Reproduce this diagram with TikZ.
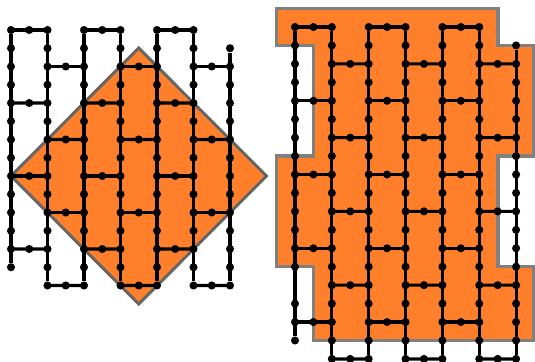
\documentclass[tikz,border=0pt]{standalone}
\usepackage{xcolor}
\definecolor{cellorange}{RGB}{255,127,42}
\definecolor{cellgray}{RGB}{128,128,128}
\definecolor{diamondgray}{RGB}{102,102,102}
\usetikzlibrary{calc}
\tikzset{
  dot/.style={circle, fill=black, inner sep=0pt, minimum size=4.6pt},
  bond/.style={black, line width=1.8pt},
}
\begin{document}
\begin{tikzpicture}[x=0.02cm, y=-0.02cm]
  \useasboundingbox (0,0) rectangle (535,362);

  % Diamond behind the left lattice
  \fill[cellorange, draw=diamondgray, line width=1.7pt, line join=miter]
    (138.7,48) -- (266.5,176) -- (138.7,304) -- (11,176) -- cycle;

  % Region behind the right lattice
  \fill[cellorange, draw=cellgray, line width=2pt, line join=miter]
    (276.6,8.6) -- (497.8,8.6) -- (497.8,45.4) -- (534,45.4) -- (534,155.8)
    -- (497.8,155.8) -- (497.8,266.7) -- (534,266.7) -- (534,340.4)
    -- (313.4,340.4) -- (313.4,266.7) -- (276.6,266.7) -- (276.6,155.8)
    -- (313.4,155.8) -- (313.4,45.4) -- (276.6,45.4) -- cycle;

  % Left lattice: columns 0-6, rows 0-14
  \def\colstep{36.5}
  \def\rowstep{18.25}
  \begin{scope}[shift={(11,30)}]
    \foreach \c/\first/\last in {0/0/13, 1/0/14, 2/0/14, 3/0/14, 4/0/14, 5/0/14, 6/1/14} {
      \foreach \r in {\first,...,\last}
        \node[dot] (L\c-\r) at ({\c*\colstep},{\r*\rowstep}) {};
      \draw[bond] (L\c-\first) -- (L\c-\last);
    }
    % Rungs, each with a dot halfway
    \foreach \c/\d/\r in {0/1/0, 0/1/4, 0/1/8, 0/1/12, 1/2/2, 1/2/6, 1/2/10, 1/2/14,
                          2/3/0, 2/3/4, 2/3/8, 2/3/12, 3/4/2, 3/4/6, 3/4/10, 3/4/14,
                          4/5/0, 4/5/4, 4/5/8, 4/5/12, 5/6/2, 5/6/6, 5/6/10, 5/6/14} {
      \node[dot] (Lm\c-\r) at ($(L\c-\r)!0.5!(L\d-\r)$) {};
      \draw[bond] (L\c-\r.center) -- (Lm\c-\r.center) -- (L\d-\r.center);
    }
  \end{scope}

  % Right lattice: columns 0-6, rows 0-18, one dot left out in column 0
  \def\colstep{36.85}
  \def\rowstep{18.44}
  \begin{scope}[shift={(295,27)}]
    \foreach \c/\first/\last in {0/0/17, 1/0/18, 2/0/18, 3/0/18, 4/0/18, 5/0/18, 6/1/18} {
      \foreach \r in {\first,...,\last} {
        \ifnum\numexpr100*\c+\r\relax=14 \else
          \node[dot] (R\c-\r) at ({\c*\colstep},{\r*\rowstep}) {};
        \fi
      }
      \draw[bond] (R\c-\first) -- (R\c-\last);
    }
    % Rungs, each with a dot halfway
    \foreach \c/\d/\r in {0/1/0, 0/1/4, 0/1/8, 0/1/12, 0/1/16, 1/2/2, 1/2/6, 1/2/10, 1/2/14, 1/2/18,
                          2/3/0, 2/3/4, 2/3/8, 2/3/12, 2/3/16, 3/4/2, 3/4/6, 3/4/10, 3/4/14, 3/4/18,
                          4/5/0, 4/5/4, 4/5/8, 4/5/12, 4/5/16, 5/6/2, 5/6/6, 5/6/10, 5/6/14, 5/6/18} {
      \node[dot] (Rm\c-\r) at ($(R\c-\r)!0.5!(R\d-\r)$) {};
      \draw[bond] (R\c-\r.center) -- (Rm\c-\r.center) -- (R\d-\r.center);
    }
  \end{scope}
\end{tikzpicture}
\end{document}
